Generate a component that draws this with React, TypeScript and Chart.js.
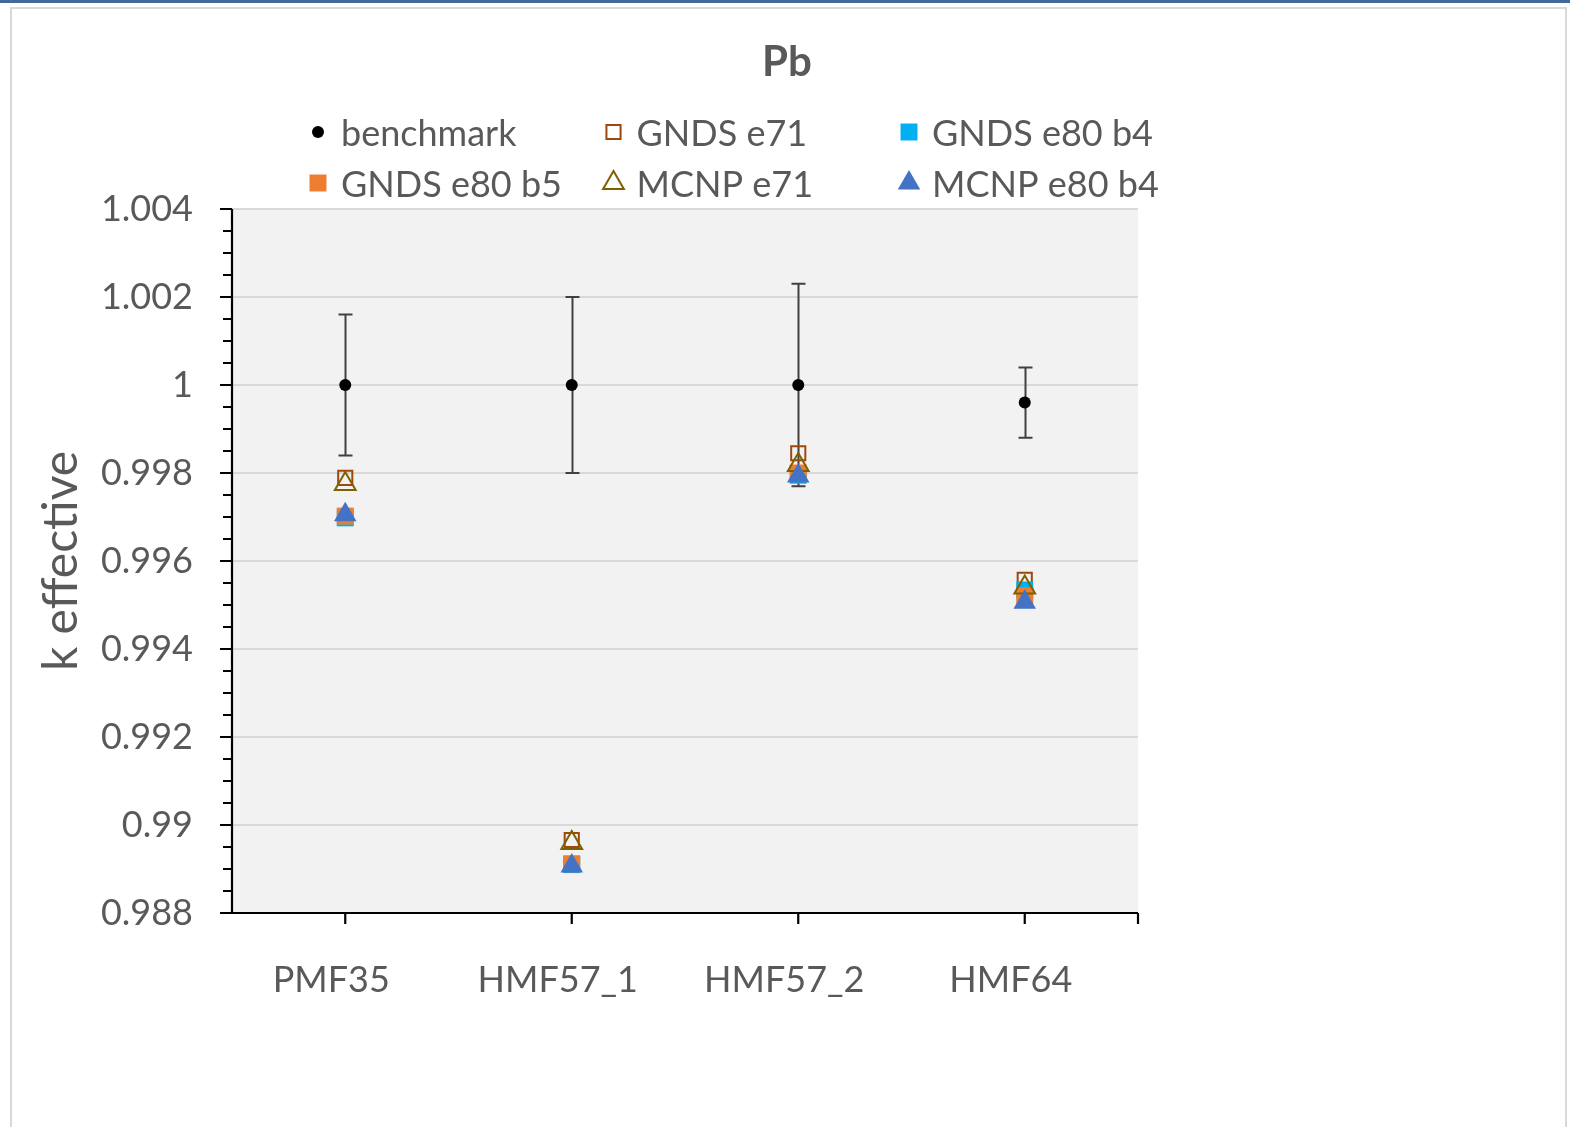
import React, { useEffect, useRef } from 'react';
import { Chart, registerables } from 'chart.js';
import { drawPoint } from 'chart.js/helpers';

Chart.register(...registerables);

// ---- data ----
const categories = ['PMF35', 'HMF57_1', 'HMF57_2', 'HMF64'];
const benchmark = [1.0, 1.0, 1.0, 0.9996];
const benchmarkUnc = [0.0016, 0.002, 0.0023, 0.0008];
const gndsE71 = [0.99789, 0.98966, 0.99845, 0.99557];
const gndsE80b4 = [0.99698, 0.9891, 0.99795, 0.99534];
const gndsE80b5 = [0.99702, 0.98912, 0.998, 0.99521];
const mcnpE71 = [0.99775, 0.98959, 0.99818, 0.9954];
const mcnpE80b4 = [0.99705, 0.98907, 0.99793, 0.99506];
const seriesNames = ['benchmark', 'GNDS e71', 'GNDS e80 b4', 'GNDS e80 b5', 'MCNP e71', 'MCNP e80 b4'];
const yMin = 0.988;
const yMax = 1.004;
const yStep = 0.002;
const yMinorStep = 0.0005;
const titleText = 'Pb';
const yTitle = 'k effective';

const FONT = 'Lato';
const TEXT = '#595959';

const decor = {
  id: 'decor',
  beforeDraw(chart: any) {
    const { ctx, chartArea: a } = chart;
    ctx.save();
    ctx.fillStyle = '#f2f2f2';
    ctx.fillRect(a.left, a.top, a.right - a.left, a.bottom - a.top);
    ctx.restore();
  },
  beforeDatasetsDraw(chart: any) {
    const { ctx, chartArea: a } = chart;
    const xs = chart.scales.x;
    const ys = chart.scales.y;
    ctx.save();
    // error bars
    ctx.strokeStyle = '#404040';
    ctx.lineWidth = 2;
    benchmark.forEach((v, i) => {
      const px = Math.round(xs.getPixelForValue(i)) + 0.5;
      const top = ys.getPixelForValue(v + benchmarkUnc[i]);
      const bot = ys.getPixelForValue(v - benchmarkUnc[i]);
      ctx.beginPath();
      ctx.moveTo(px, top);
      ctx.lineTo(px, bot);
      ctx.moveTo(px - 7, top);
      ctx.lineTo(px + 7, top);
      ctx.moveTo(px - 7, bot);
      ctx.lineTo(px + 7, bot);
      ctx.stroke();
    });
    // axes
    ctx.strokeStyle = '#000000';
    ctx.lineWidth = 2.2;
    ctx.beginPath();
    ctx.moveTo(a.left, a.top);
    ctx.lineTo(a.left, a.bottom);
    ctx.moveTo(a.left - 12, a.bottom);
    ctx.lineTo(a.right, a.bottom);
    const n = Math.round((yMax - yMin) / yMinorStep);
    const per = Math.round(yStep / yMinorStep);
    for (let k = 0; k <= n; k++) {
      const py = ys.getPixelForValue(yMin + k * yMinorStep);
      const len = k % per === 0 ? 12 : 9;
      ctx.moveTo(a.left - len, py);
      ctx.lineTo(a.left, py);
    }
    categories.forEach((_, i) => {
      const px = xs.getPixelForValue(i);
      ctx.moveTo(px, a.bottom);
      ctx.lineTo(px, a.bottom + 11);
    });
    ctx.moveTo(a.right, a.bottom);
    ctx.lineTo(a.right, a.bottom + 11);
    ctx.stroke();
    ctx.restore();
  },
  afterDraw(chart: any) {
    const { ctx } = chart;
    ctx.save();
    // title
    ctx.fillStyle = TEXT;
    ctx.font = `bold 42px ${FONT}`;
    ctx.textAlign = 'center';
    ctx.textBaseline = 'alphabetic';
    ctx.fillText(titleText, 787, 76);
    // legend
    ctx.font = `36px ${FONT}`;
    ctx.textAlign = 'left';
    chart.data.datasets.forEach((ds: any, i: number) => {
      const col = i % 3;
      const row = Math.floor(i / 3);
      const mx = 318 + col * 295.5;
      const my = 132 + row * 51;
      ctx.fillStyle = ds.pointBackgroundColor;
      ctx.strokeStyle = ds.pointBorderColor;
      ctx.lineWidth = ds.pointBorderWidth;
      drawPoint(ctx, {
        pointStyle: ds.pointStyle,
        rotation: 0,
        radius: ds.pointRadius,
        borderWidth: ds.pointBorderWidth,
      } as any, mx, my);
      ctx.fillStyle = TEXT;
      ctx.fillText(ds.label, mx + 23, my + 14);
    });
    ctx.restore();
  },
};

function mk(label: string, data: number[], style: string, radius: number, bg: string, border: string, bw: number, order: number) {
  return {
    label,
    data,
    showLine: false,
    pointStyle: style,
    pointRadius: radius,
    pointHoverRadius: radius,
    pointBackgroundColor: bg,
    pointBorderColor: border,
    pointBorderWidth: bw,
    backgroundColor: bg,
    borderColor: border,
    order,
  };
}

export default function App() {
  const ref = useRef<HTMLCanvasElement>(null);
  useEffect(() => {
    const chart = new Chart(ref.current as HTMLCanvasElement, {
      type: 'line',
      data: {
        labels: categories,
        datasets: [
          mk(seriesNames[0], benchmark, 'circle', 6, '#000000', '#000000', 0, 6),
          mk(seriesNames[1], gndsE71, 'rect', 10, 'rgba(0,0,0,0)', '#9E480E', 2, 5),
          mk(seriesNames[2], gndsE80b4, 'rect', 12, '#00B0F0', '#00B0F0', 0, 4),
          mk(seriesNames[3], gndsE80b5, 'rect', 12, '#ED7D31', '#ED7D31', 0, 3),
          mk(seriesNames[4], mcnpE71, 'triangle', 12, 'rgba(0,0,0,0)', '#7F6000', 2, 2),
          mk(seriesNames[5], mcnpE80b4, 'triangle', 13, '#4472C4', '#4472C4', 0, 1),
        ] as any,
      },
      options: {
        animation: false,
        responsive: false,
        events: [],
        layout: { padding: { left: 0, right: 432, top: 209, bottom: 114 } },
        plugins: {
          legend: { display: false },
          title: { display: false },
          tooltip: { enabled: false },
        },
        scales: {
          x: {
            type: 'category',
            offset: true,
            grid: { display: false, drawTicks: false },
            border: { display: false },
            ticks: {
              color: TEXT,
              font: { family: FONT, size: 36 },
              padding: 46,
              labelOffset: -14,
              maxRotation: 0,
              autoSkip: false,
            },
            afterFit: (s: any) => { s.height = 100; },
          },
          y: {
            type: 'linear',
            min: yMin,
            max: yMax,
            grid: { color: '#d9d9d9', lineWidth: 2, drawTicks: false },
            border: { display: false },
            ticks: {
              stepSize: yStep,
              color: TEXT,
              font: { family: FONT, size: 36 },
              padding: 39,
              callback: (v: any) => String(parseFloat(Number(v).toFixed(4))),
            },
            title: {
              display: true,
              text: yTitle,
              color: TEXT,
              font: { family: FONT, size: 48 },
              padding: { top: 33, bottom: 0 },
            },
            afterFit: (s: any) => { s.width = 232; },
          },
        },
      },
      plugins: [decor],
    } as any);
    return () => chart.destroy();
  }, []);
  return (
    <div style={{ position: 'fixed', left: 0, top: 0, width: 1570, height: 1127, overflow: 'hidden', background: '#ffffff' }}>
      <div style={{ position: 'absolute', left: 0, top: 0, width: 1570, height: 3, background: '#41699C' }} />
      <div style={{ position: 'absolute', left: 10, top: 7, width: 1557, height: 1140, border: '2px solid #d9d9d9', boxSizing: 'border-box' }} />
      <canvas ref={ref} width={1570} height={1127} style={{ position: 'absolute', left: 0, top: 0, width: 1570, height: 1127 }} />
    </div>
  );
}
